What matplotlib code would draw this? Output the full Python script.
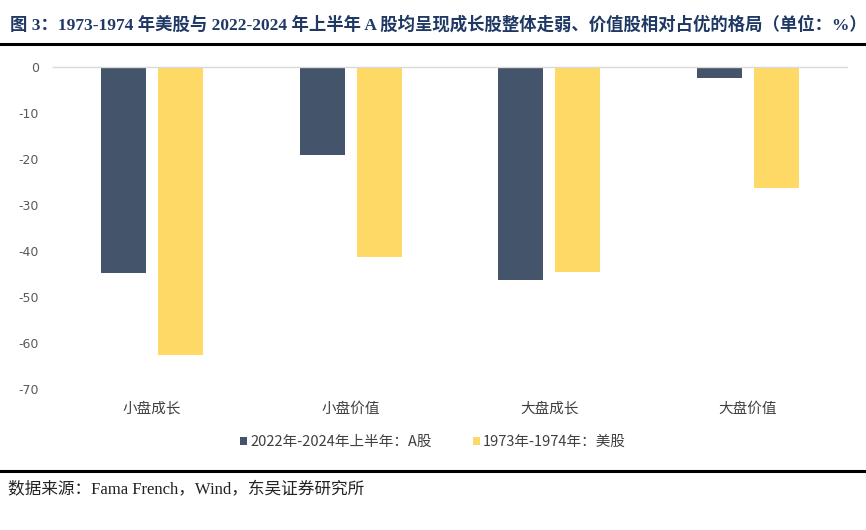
import matplotlib.pyplot as plt
import numpy as np

plt.rcParams['font.family'] = ['Liberation Serif', 'Noto Sans CJK SC', 'DejaVu Sans']

# 数据
categories = ['小盘成长', '小盘价值', '大盘成长', '大盘价值']
a_share = [-44.7, -19.2, -46.4, -2.3]
us_share = [-62.5, -41.2, -44.6, -26.3]
label_a = '2022年-2024年上半年：A股'
label_us = '1973年-1974年：美股'
yticks = [0, -10, -20, -30, -40, -50, -60, -70]

title = '图 3：1973-1974 年美股与 2022-2024 年上半年 A 股均呈现成长股整体走弱、价值股相对占优的格局（单位：%）'
source = '数据来源：Fama French，Wind，东吴证券研究所'

col_a = '#44546A'
col_us = '#FFD966'
cjk = ['Noto Sans CJK SC', 'DejaVu Sans']

fig = plt.figure(figsize=(8.66, 5.30), dpi=100)
W, H = 866, 530
ax = fig.add_axes([53 / W, 1 - 389 / H, 794 / W, (389 - 67) / H])

x = np.arange(len(categories))
w = 0.227
off = 0.144
ax.bar(x - off, a_share, w, color=col_a, label=label_a)
ax.bar(x + off, us_share, w, color=col_us, label=label_us)

ax.set_xlim(-0.5, len(categories) - 0.5)
ax.set_ylim(-70, 0)
ax.set_yticks(yticks)
ax.set_yticklabels([str(v) for v in yticks], family=['DejaVu Sans'], fontsize=9, color='#595959')
ax.set_xticks(x)
ax.set_xticklabels(categories, family=cjk, fontsize=10.5, color='#404040')
ax.tick_params(axis='both', length=0)
ax.tick_params(axis='x', pad=9)
ax.tick_params(axis='y', pad=10)
for s in ['left', 'right', 'bottom']:
    ax.spines[s].set_visible(False)
ax.spines['top'].set_color('#D9D9D9')
ax.spines['top'].set_linewidth(1)

leg = fig.legend(loc='center', bbox_to_anchor=(0.5, 1 - 442 / H), ncol=2, frameon=False,
                 prop={'family': cjk, 'size': 10.5}, handlelength=0.5, handleheight=0.5,
                 handletextpad=0.2, columnspacing=2.8)
for t in leg.get_texts():
    t.set_color('#404040')

# 标题与来源
fig.text(10 / W, 1 - 25 / H, title, fontsize=12.5, fontweight='bold', color='#1F3864',
         va='center', ha='left')
fig.add_artist(plt.Line2D([0, 1], [1 - 44 / H, 1 - 44 / H], color='black', lw=2.2))
fig.add_artist(plt.Line2D([0, 1], [1 - 471 / H, 1 - 471 / H], color='black', lw=2.2))
fig.text(8 / W, 1 - 490 / H, source, fontsize=12, color='#222222', va='center', ha='left')

fig.savefig('out.png', dpi=100)
